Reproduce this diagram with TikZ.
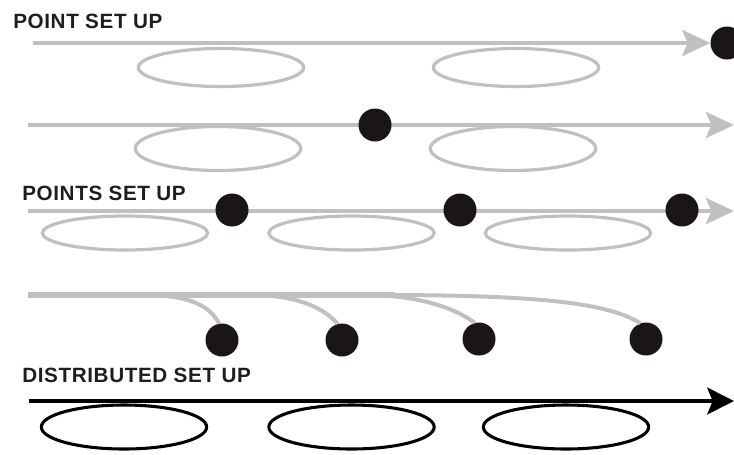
\documentclass[tikz,border=0pt]{standalone}
\usepackage{fontspec}
\setmainfont{Liberation Sans}[LetterSpace=3]
\usetikzlibrary{arrows.meta,shapes.geometric}
\definecolor{lgray}{HTML}{C0C0C0}
\definecolor{dotblack}{HTML}{1A1616}
\definecolor{txt}{HTML}{1E1E1E}
\tikzset{
  title/.style={anchor=base west,inner sep=0pt,text=txt,font=\fontsize{15.5pt}{18pt}\selectfont\bfseries},
  gring/.style={ellipse,draw=lgray,line width=2.4pt,inner sep=0pt,minimum width=124pt},
  bring/.style={ellipse,draw=black,line width=2.3pt,inner sep=0pt,minimum width=124pt,minimum height=33pt},
  dot/.style={circle,fill=dotblack,inner sep=0pt,minimum size=24.75pt},
  gline/.style={draw=lgray,line width=3pt},
  garrow/.style={gline,-{Stealth[length=21pt,width=19.5pt,inset=4pt]}},
  barrow/.style={draw=black,line width=3.3pt,-{Stealth[length=20pt,width=20pt,inset=4pt]}},
  branch/.style={draw=lgray,line width=3pt},
}
\begin{document}
\begin{tikzpicture}[x=0.75pt,y=-0.75pt]
\useasboundingbox (0,0) rectangle (734,454);
% ---- row 1
\node[title] (t1) at (13,28) {POINT SET UP};
\node[gring,minimum height=28.5pt] (e11) at (221,67.5) {};
\node[gring,minimum height=28.5pt] (e12) at (516,67.5) {};
\coordinate (s1) at (33,43);
\node[dot] (d1) at (727,43) {};
\draw[garrow] (s1) -- (d1.west);
% ---- row 2
\node[gring,minimum height=33pt] (e21) at (218,148.5) {};
\node[gring,minimum height=33pt] (e22) at (513,148.5) {};
\coordinate (s2) at (28,125);
\coordinate (a2) at (734,125);
\draw[garrow] (s2) -- (a2);
\node[dot] (d2) at (375,125) {};
% ---- row 3
\node[title] (t3) at (22,200) {POINTS SET UP};
\node[gring,minimum height=25.5pt] (e31) at (125,233) {};
\node[gring,minimum height=25.5pt] (e32) at (351.5,233) {};
\node[gring,minimum height=25.5pt] (e33) at (568,233) {};
\coordinate (s3) at (28,211);
\coordinate (a3) at (734,211);
\draw[garrow] (s3) -- (a3);
\node[dot] (d31) at (232,210) {};
\node[dot] (d32) at (460,210) {};
\node[dot] (d33) at (682,210) {};
% ---- row 4
\node[dot] (d41) at (222,340) {};
\node[dot] (d42) at (342,340) {};
\node[dot] (d43) at (479,339) {};
\node[dot] (d44) at (646,339) {};
\coordinate (s4) at (28,295);
\coordinate (m4) at (395,295);
\coordinate (b1) at (150,295);
\coordinate (b2) at (255,295);
\coordinate (b3) at (370,295);
\coordinate (b4) at (380,295);
\draw[branch] (b1) .. controls (190,296) and (210,306) .. (d41.100);
\draw[branch] (b2) .. controls (295,296) and (322,306) .. (d42.105);
\draw[branch] (b3) .. controls (420,296) and (455,308) .. (d43.105);
\draw[branch] (b4) .. controls (540,295) and (608,303) .. (d44.110);
\draw[draw=lgray,line width=4.5pt] (s4) -- (m4);
% ---- row 5
\node[title] (t5) at (22,382) {DISTRIBUTED SET UP};
\node[bring] (e51) at (124,427) {};
\node[bring] (e52) at (351.5,427) {};
\node[bring] (e53) at (566,427) {};
\coordinate (s5) at (29,401);
\coordinate (a5) at (734,401);
\draw[barrow] (s5) -- (a5);
\end{tikzpicture}
\end{document}
